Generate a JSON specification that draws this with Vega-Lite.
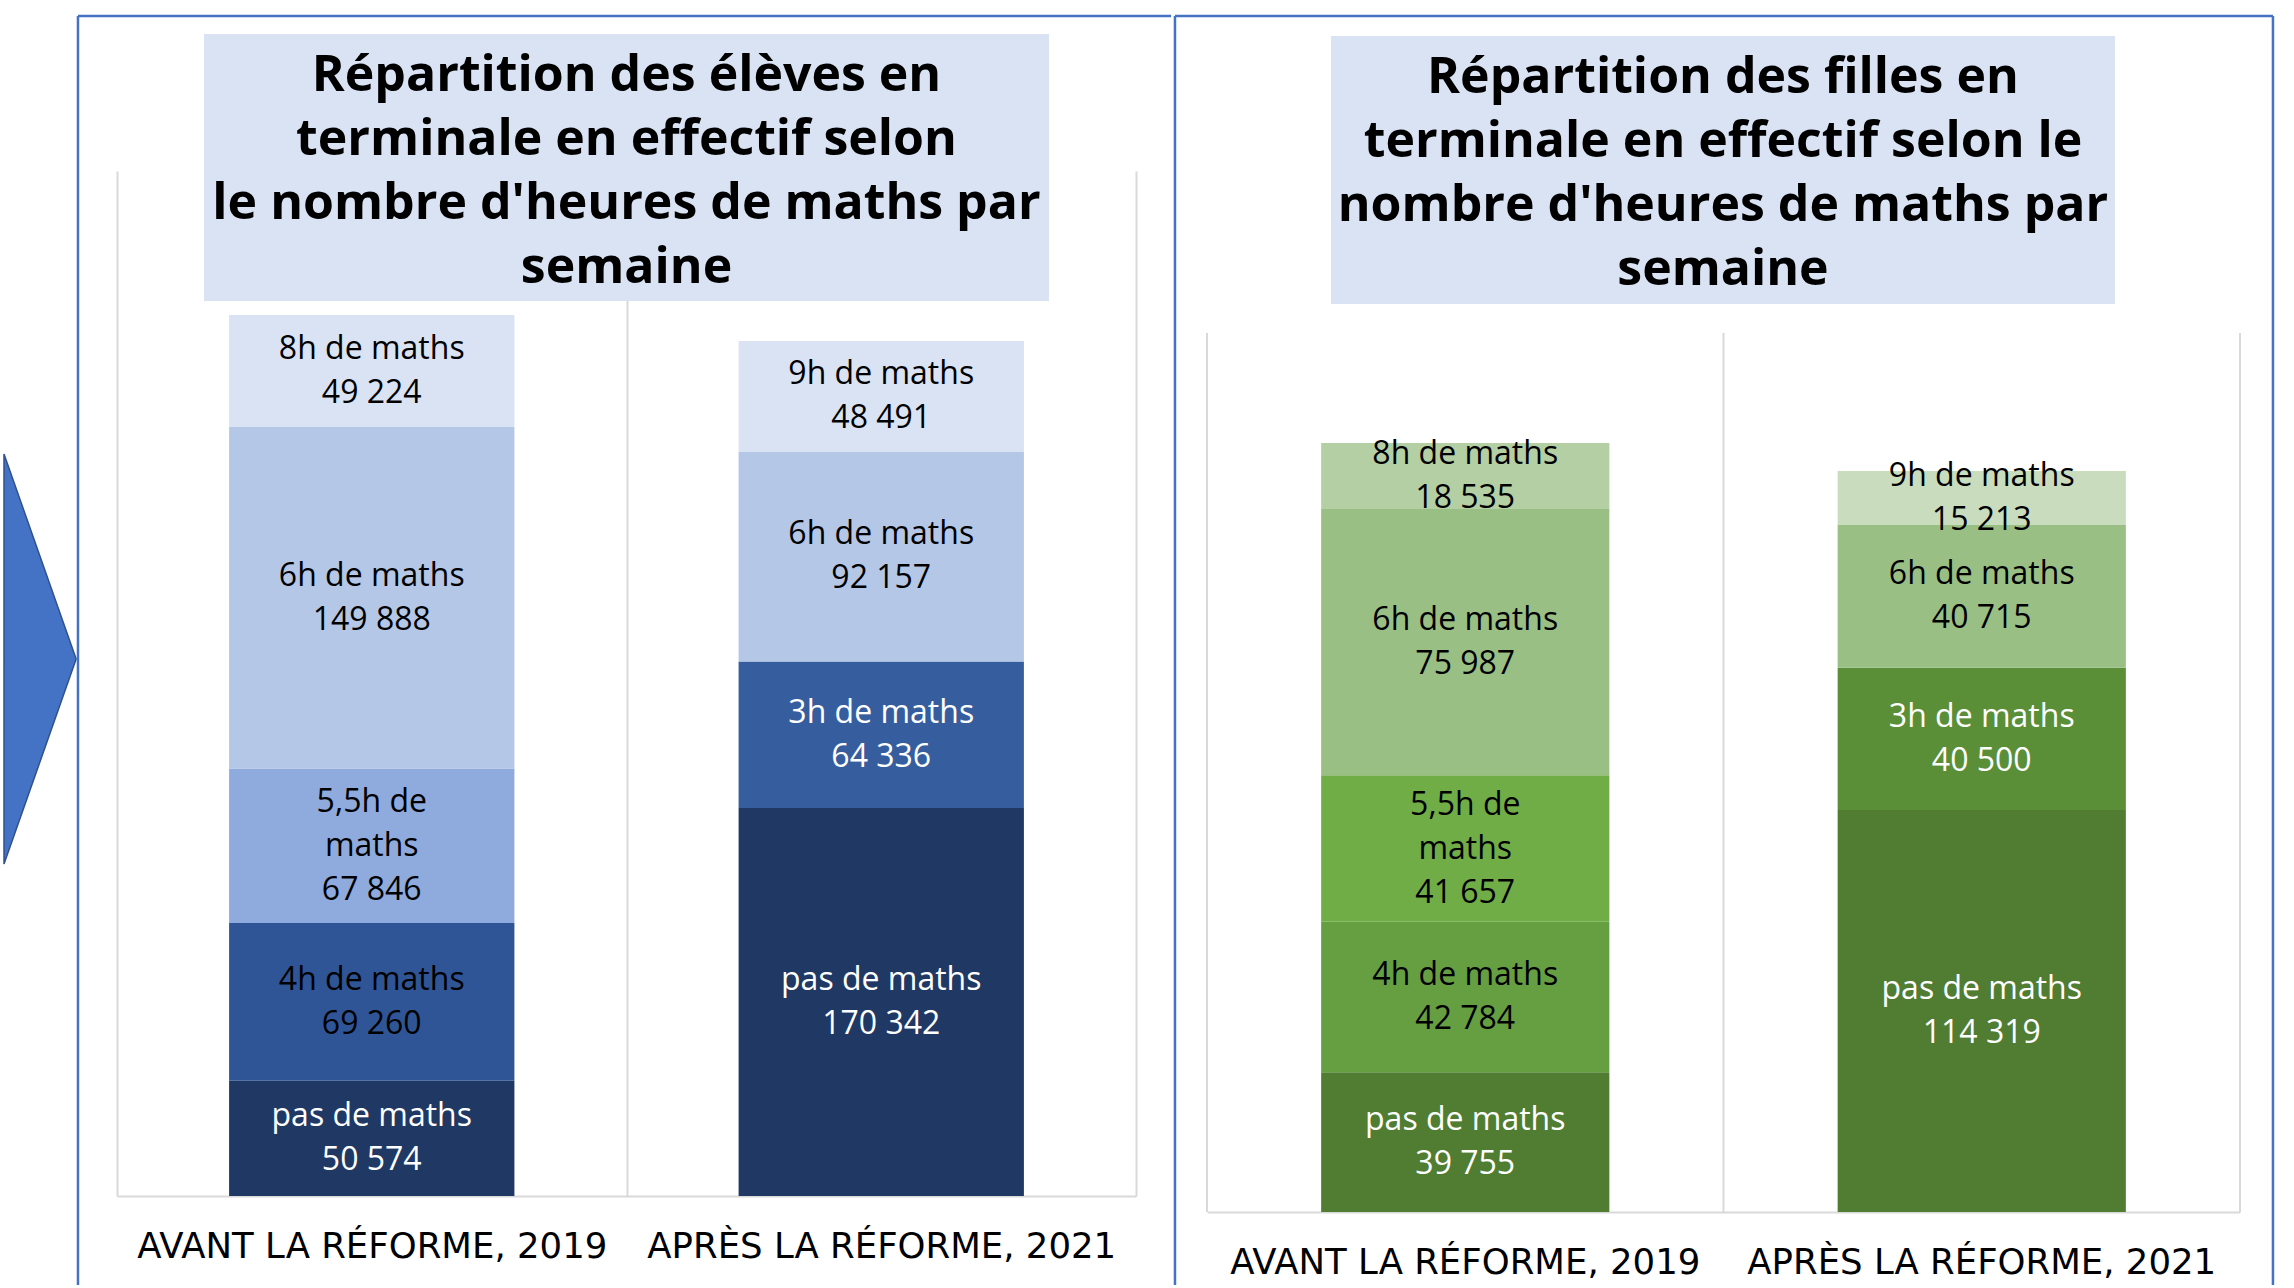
{
  "$schema": "https://vega.github.io/schema/vega-lite/v6.json",
  "background": "white",
  "padding": {"left": 0, "top": 14, "right": 0, "bottom": 0},
  "spacing": 0,
  "resolve": {"scale": {"color": "independent"}},
  "config": {"view": {"stroke": null}},
  "datasets": {
    "eleves": [
      {"periode": "AVANT LA RÉFORME, 2019", "heures": "pas de maths", "h_semaine": 0, "effectif": 50574},
      {"periode": "AVANT LA RÉFORME, 2019", "heures": "4h de maths", "h_semaine": 4, "effectif": 69260},
      {"periode": "AVANT LA RÉFORME, 2019", "heures": "5,5h de maths", "h_semaine": 5.5, "effectif": 67846},
      {"periode": "AVANT LA RÉFORME, 2019", "heures": "6h de maths", "h_semaine": 6, "effectif": 149888},
      {"periode": "AVANT LA RÉFORME, 2019", "heures": "8h de maths", "h_semaine": 8, "effectif": 49224},
      {"periode": "APRÈS LA RÉFORME, 2021", "heures": "pas de maths", "h_semaine": 0, "effectif": 170342},
      {"periode": "APRÈS LA RÉFORME, 2021", "heures": "3h de maths", "h_semaine": 3, "effectif": 64336},
      {"periode": "APRÈS LA RÉFORME, 2021", "heures": "6h de maths", "h_semaine": 6, "effectif": 92157},
      {"periode": "APRÈS LA RÉFORME, 2021", "heures": "9h de maths", "h_semaine": 9, "effectif": 48491}
    ],
    "filles": [
      {"periode": "AVANT LA RÉFORME, 2019", "heures": "pas de maths", "h_semaine": 0, "effectif": 39755},
      {"periode": "AVANT LA RÉFORME, 2019", "heures": "4h de maths", "h_semaine": 4, "effectif": 42784},
      {"periode": "AVANT LA RÉFORME, 2019", "heures": "5,5h de maths", "h_semaine": 5.5, "effectif": 41657},
      {"periode": "AVANT LA RÉFORME, 2019", "heures": "6h de maths", "h_semaine": 6, "effectif": 75987},
      {"periode": "AVANT LA RÉFORME, 2019", "heures": "8h de maths", "h_semaine": 8, "effectif": 18535},
      {"periode": "APRÈS LA RÉFORME, 2021", "heures": "pas de maths", "h_semaine": 0, "effectif": 114319},
      {"periode": "APRÈS LA RÉFORME, 2021", "heures": "3h de maths", "h_semaine": 3, "effectif": 40500},
      {"periode": "APRÈS LA RÉFORME, 2021", "heures": "6h de maths", "h_semaine": 6, "effectif": 40715},
      {"periode": "APRÈS LA RÉFORME, 2021", "heures": "9h de maths", "h_semaine": 9, "effectif": 15213}
    ]
  },
  "hconcat": [
    {
      "width": 1019,
      "height": 1025,
      "resolve": {"scale": {"x": "independent", "y": "independent"}},
      "layer": [
        {
          "data": {"values": [{}]},
          "layer": [
            {
              "mark": {"type": "point", "shape": "M0,-1L0.352,0L0,1Z", "size": 168100, "filled": true, "color": "#4472C4", "opacity": 1, "stroke": "#2F528F", "strokeWidth": 1.5},
              "encoding": {
                "x": {"datum": -0.1109, "type": "quantitative", "scale": {"domain": [0, 1], "nice": false, "zero": false}, "axis": null},
                "y": {"datum": 0.5239, "type": "quantitative", "scale": {"domain": [0, 1], "nice": false, "zero": false}, "axis": null}
              }
            },
            {
              "mark": {"type": "rule", "color": "#4472C4", "strokeWidth": 2.5},
              "encoding": {
                "x": {"datum": -0.0383, "type": "quantitative"},
                "y": {"datum": 1.1512, "type": "quantitative"},
                "y2": {"datum": -0.0868}
              }
            },
            {
              "mark": {"type": "rule", "color": "#4472C4", "strokeWidth": 2.5},
              "encoding": {
                "y": {"datum": 1.1512, "type": "quantitative"},
                "x": {"datum": -0.0383, "type": "quantitative"},
                "x2": {"datum": 1.0344}
              }
            },
            {
              "mark": {"type": "rect", "color": "#DAE3F3"},
              "encoding": {
                "x": {"datum": 0.0854, "type": "quantitative"},
                "x2": {"datum": 0.9146},
                "y": {"datum": 1.1337, "type": "quantitative"},
                "y2": {"datum": 0.8732}
              }
            },
            {
              "mark": {"type": "text", "text": ["Répartition des élèves en", "terminale en effectif selon", "le nombre d'heures de maths par", "semaine"], "font": "Open Sans", "fontWeight": "bold", "fontSize": 50, "lineHeight": 64, "align": "center", "baseline": "middle", "color": "#000000"},
              "encoding": {
                "x": {"datum": 0.5, "type": "quantitative"},
                "y": {"datum": 1.0927, "type": "quantitative"}
              }
            }
          ]
        },
        {
          "data": {"name": "eleves"},
          "layer": [
            {
              "mark": {"type": "bar", "width": {"band": 0.56}},
              "encoding": {
                "x": {"field": "periode", "type": "nominal", "sort": ["AVANT LA RÉFORME, 2019", "APRÈS LA RÉFORME, 2021"], "scale": {"paddingInner": 0, "paddingOuter": 0},
                  "axis": {"orient": "bottom", "title": null, "grid": true, "tickBand": "extent", "gridColor": "#D9D9D9", "gridWidth": 2, "domainColor": "#D9D9D9", "domainWidth": 2, "ticks": false, "tickSize": 0, "labelFont": "DejaVu Sans", "labelFontSize": 35.5, "labelColor": "#000000", "labelPadding": 33, "labelAngle": 0, "labelLimit": 0}},
                "y": {"field": "effectif", "type": "quantitative", "stack": "zero", "scale": {"domain": [0, 450000], "nice": false}, "axis": null},
                "order": {"field": "h_semaine", "type": "quantitative", "sort": "ascending"},
                "color": {"field": "heures", "type": "nominal",
                  "scale": {"domain": ["pas de maths", "3h de maths", "4h de maths", "5,5h de maths", "6h de maths", "8h de maths", "9h de maths"], "range": ["#203864", "#365E9F", "#2F5597", "#8FAADC", "#B4C7E7", "#DAE3F3", "#DAE3F3"]}, "legend": null}
              }
            },
            {
              "transform": [{"calculate": "replace(datum.heures, '5,5h de ', '5,5h de\\n') + '\\n' + replace(format(datum.effectif, ',d'), ',', ' ')", "as": "etiquette"}],
              "mark": {"type": "text", "font": "Open Sans", "fontSize": 32, "lineHeight": 44, "lineBreak": "\n", "align": "center", "baseline": "middle", "dy": {"expr": "datum.heures === '5,5h de maths' ? -44 : -22"}},
              "encoding": {
                "x": {"field": "periode", "type": "nominal", "sort": ["AVANT LA RÉFORME, 2019", "APRÈS LA RÉFORME, 2021"]},
                "y": {"field": "effectif", "type": "quantitative", "stack": "zero", "bandPosition": 0.5},
                "order": {"field": "h_semaine", "type": "quantitative", "sort": "ascending"},
                "detail": {"field": "heures", "type": "nominal"},
                "fill": {"condition": {"test": "datum.heures === 'pas de maths' || datum.heures === '3h de maths'", "value": "#FFFFFF"}, "value": "#000000"},
                "text": {"field": "etiquette"}
              }
            }
          ]
        }
      ]
    },
    {
      "width": 1033,
      "height": 1041,
      "resolve": {"scale": {"x": "independent", "y": "independent"}},
      "layer": [
        {
          "data": {"values": [{}]},
          "layer": [
            {
              "mark": {"type": "rule", "color": "#D9D9D9", "strokeWidth": 2},
              "encoding": {
                "x": {"datum": 0, "type": "quantitative", "scale": {"domain": [0, 1], "nice": false, "zero": false}, "axis": null},
                "y": {"datum": 0.8444, "type": "quantitative", "scale": {"domain": [0, 1], "nice": false, "zero": false}, "axis": null},
                "y2": {"datum": 0}
              }
            },
            {
              "mark": {"type": "rule", "color": "#D9D9D9", "strokeWidth": 2},
              "encoding": {
                "x": {"datum": 0.5, "type": "quantitative"},
                "y": {"datum": 0.8444, "type": "quantitative"},
                "y2": {"datum": 0}
              }
            },
            {
              "mark": {"type": "rule", "color": "#D9D9D9", "strokeWidth": 2},
              "encoding": {
                "x": {"datum": 1, "type": "quantitative"},
                "y": {"datum": 0.8444, "type": "quantitative"},
                "y2": {"datum": 0}
              }
            },
            {
              "mark": {"type": "rule", "color": "#4472C4", "strokeWidth": 2.5},
              "encoding": {
                "x": {"datum": -0.031, "type": "quantitative"},
                "y": {"datum": 1.1489, "type": "quantitative"},
                "y2": {"datum": -0.0701}
              }
            },
            {
              "mark": {"type": "rule", "color": "#4472C4", "strokeWidth": 2.5},
              "encoding": {
                "x": {"datum": 1.0319, "type": "quantitative"},
                "y": {"datum": 1.1489, "type": "quantitative"},
                "y2": {"datum": -0.0701}
              }
            },
            {
              "mark": {"type": "rule", "color": "#4472C4", "strokeWidth": 2.5},
              "encoding": {
                "y": {"datum": 1.1489, "type": "quantitative"},
                "x": {"datum": -0.031, "type": "quantitative"},
                "x2": {"datum": 1.0319}
              }
            },
            {
              "mark": {"type": "rect", "color": "#DAE3F3"},
              "encoding": {
                "x": {"datum": 0.12, "type": "quantitative"},
                "x2": {"datum": 0.879},
                "y": {"datum": 1.1297, "type": "quantitative"},
                "y2": {"datum": 0.8722}
              }
            },
            {
              "mark": {"type": "text", "text": ["Répartition des filles en", "terminale en effectif selon le", "nombre d'heures de maths par", "semaine"], "font": "Open Sans", "fontWeight": "bold", "fontSize": 50, "lineHeight": 64, "align": "center", "baseline": "middle", "color": "#000000"},
              "encoding": {
                "x": {"datum": 0.4995, "type": "quantitative"},
                "y": {"datum": 1.0898, "type": "quantitative"}
              }
            }
          ]
        },
        {
          "data": {"name": "filles"},
          "layer": [
            {
              "mark": {"type": "bar", "width": {"band": 0.558}},
              "encoding": {
                "x": {"field": "periode", "type": "nominal", "sort": ["AVANT LA RÉFORME, 2019", "APRÈS LA RÉFORME, 2021"], "scale": {"paddingInner": 0, "paddingOuter": 0},
                  "axis": {"orient": "bottom", "title": null, "grid": false, "domainColor": "#D9D9D9", "domainWidth": 2, "ticks": false, "tickSize": 0, "labelFont": "DejaVu Sans", "labelFontSize": 35.5, "labelColor": "#000000", "labelPadding": 33, "labelAngle": 0, "labelLimit": 0}},
                "y": {"field": "effectif", "type": "quantitative", "stack": "zero", "scale": {"domain": [0, 296070], "nice": false}, "axis": null},
                "order": {"field": "h_semaine", "type": "quantitative", "sort": "ascending"},
                "color": {"field": "heures", "type": "nominal",
                  "scale": {"domain": ["pas de maths", "3h de maths", "4h de maths", "5,5h de maths", "6h de maths", "8h de maths", "9h de maths"], "range": ["#507D32", "#5A8F38", "#669E42", "#70AD47", "#9ABF84", "#B4CFA4", "#C9DCBE"]}, "legend": null}
              }
            },
            {
              "transform": [{"calculate": "replace(datum.heures, '5,5h de ', '5,5h de\\n') + '\\n' + replace(format(datum.effectif, ',d'), ',', ' ')", "as": "etiquette"}],
              "mark": {"type": "text", "font": "Open Sans", "fontSize": 32, "lineHeight": 44, "lineBreak": "\n", "align": "center", "baseline": "middle", "dy": {"expr": "datum.heures === '5,5h de maths' ? -44 : -22"}},
              "encoding": {
                "x": {"field": "periode", "type": "nominal", "sort": ["AVANT LA RÉFORME, 2019", "APRÈS LA RÉFORME, 2021"]},
                "y": {"field": "effectif", "type": "quantitative", "stack": "zero", "bandPosition": 0.5},
                "order": {"field": "h_semaine", "type": "quantitative", "sort": "ascending"},
                "detail": {"field": "heures", "type": "nominal"},
                "fill": {"condition": {"test": "datum.heures === 'pas de maths' || datum.heures === '3h de maths'", "value": "#FFFFFF"}, "value": "#000000"},
                "text": {"field": "etiquette"}
              }
            }
          ]
        }
      ]
    }
  ]
}
